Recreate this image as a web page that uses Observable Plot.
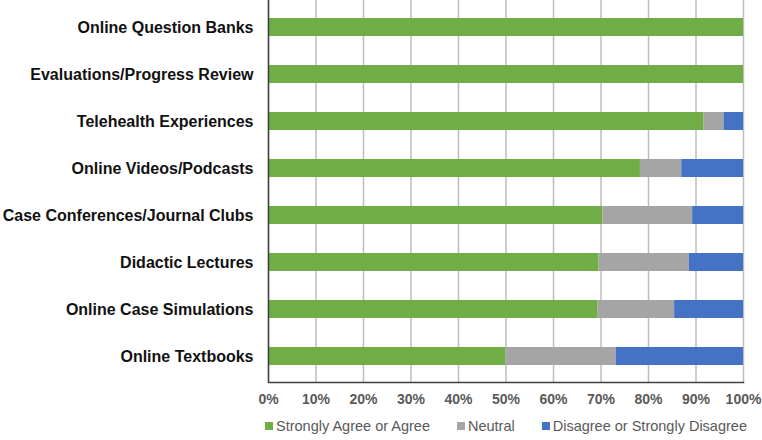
<!DOCTYPE html>
<html>
<head>
<meta charset="utf-8">
<script src="https://cdn.jsdelivr.net/npm/d3@7"></script>
<script src="https://cdn.jsdelivr.net/npm/@observablehq/plot@0.6"></script>
<style>
  body { margin: 0; background: #fff; font-family: "Liberation Sans", Arial, sans-serif; }
  #legend { display: flex; align-items: center; height: 28px; margin-left: 265px; font-size: 14.5px; color: #595959; white-space: nowrap; }
  #legend .item { display: flex; align-items: center; margin-right: 27px; flex: none; }
  #legend .item:last-child { margin-right: 0; }
  #legend .sw { width: 8px; height: 8px; margin-right: 3px; }
</style>
</head>
<body>
<div id="chart"></div>
<div id="legend"></div>
<script>
const categories = [
  "Online Question Banks",
  "Evaluations/Progress Review",
  "Telehealth Experiences",
  "Online Videos/Podcasts",
  "Case Conferences/Journal Clubs",
  "Didactic Lectures",
  "Online Case Simulations",
  "Online Textbooks"
];
const responses = ["Strongly Agree or Agree", "Neutral", "Disagree or Strongly Disagree"];
const colors = ["#70AD47", "#A5A5A5", "#4472C4"];
const agree    = [100, 100, 91.7, 78.3, 70.4, 69.6, 69.4, 50.0];
const neutral  = [0,   0,   4.2,  8.7,  18.9, 19.0, 16.1, 23.2];
const disagree = [0,   0,   4.1,  13.0, 10.7, 11.4, 14.5, 26.8];
const xTicks = [0, 10, 20, 30, 40, 50, 60, 70, 80, 90, 100];

const series = [agree, neutral, disagree];
const data = [];
categories.forEach((c, i) => {
  responses.forEach((r, j) => {
    data.push({category: c, response: r, value: series[j][i]});
  });
});

const chart = Plot.plot({
  width: 762,
  height: 412,
  marginLeft: 268,
  marginRight: 19,
  marginTop: 0,
  marginBottom: 30,
  style: {fontFamily: "'Liberation Sans', Arial, sans-serif", background: "#fff"},
  x: {domain: [0, 100]},
  y: {domain: categories, paddingInner: 0.62, paddingOuter: 0.31},
  color: {domain: responses, range: colors},
  marks: [
    Plot.tickX(xTicks, {x: d => d, stroke: "#BDBDBD", strokeWidth: 1.5}),
    Plot.barX(data, {y: "category", x: "value", fill: "response", order: responses}),
    Plot.ruleX([0], {stroke: "#404040", strokeWidth: 1.5}),
    Plot.frame({anchor: "bottom", stroke: "#404040", strokeWidth: 1.5}),
    Plot.axisX({ticks: xTicks, tickFormat: d => d + "%", tickSize: 0, tickPadding: 12, fontSize: 14, fontWeight: "bold", fill: "#595959", label: null}),
    Plot.axisY({tickSize: 0, tickPadding: 15, fontSize: 16, fontWeight: "bold", fill: "#111", label: null})
  ]
});
document.getElementById("chart").appendChild(chart);

const legend = document.getElementById("legend");
responses.forEach((r, j) => {
  const it = document.createElement("div");
  it.className = "item";
  const sw = document.createElement("span");
  sw.className = "sw";
  sw.style.background = colors[j];
  const t = document.createElement("span");
  t.textContent = r;
  it.appendChild(sw); it.appendChild(t);
  legend.appendChild(it);
});
</script>
</body>
</html>
